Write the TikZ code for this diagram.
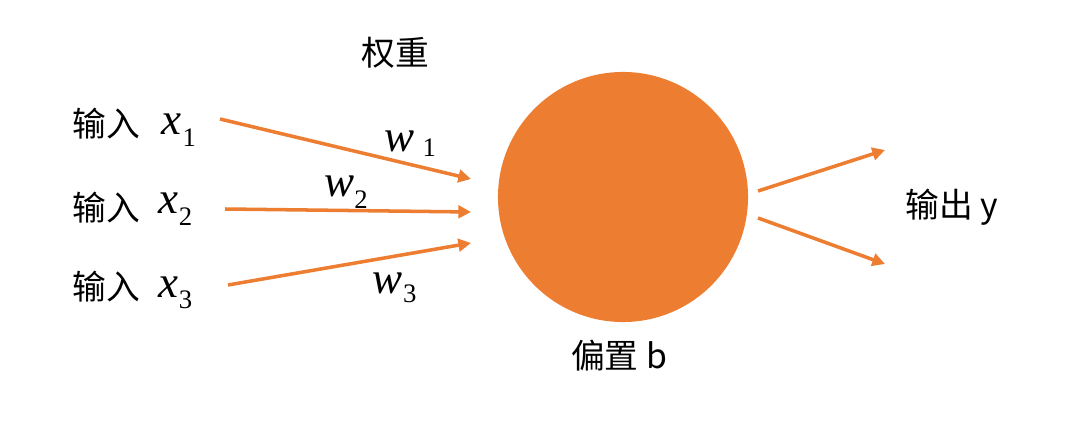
\documentclass[tikz,border=0pt]{standalone}
\usepackage{fontspec}
\setmainfont{Liberation Serif}
\newfontfamily\cjk{Noto Sans CJK SC}
\usetikzlibrary{arrows.meta}

% variable with subscript: \var{letter}{index}{gap}{drop}
\newcommand{\var}[4]{{\fontsize{32}{34}\selectfont\itshape #1}\hspace{#3}\raisebox{-#4}{\fontsize{19}{20}\selectfont #2}}

\begin{document}
\begin{tikzpicture}[
    x=0.025cm, y=-0.025cm,
    >={Triangle[length=9pt,width=9pt]},
    link/.style={->,line width=2.5pt,color=neuronorange},
    label/.style={font=\cjk\fontsize{24}{26}\selectfont,inner sep=0pt},
    mathlbl/.style={inner sep=0pt,anchor=base west},
]
\definecolor{neuronorange}{HTML}{ED7D31}
\useasboundingbox (0,0) rectangle (1071,439);

% neuron
\node[circle,fill=neuronorange,minimum size=6.25cm,inner sep=0pt] (neuron) at (623,197) {};
\node[label] (weights) at (395,53) {权重};
\node[label] (bias) at (619,356) {偏置 b};
\node[label] (out) at (952,207) {输出 y};

% inputs
\node[label] (in1) at (106,124) {输入};
\node[label] (in2) at (106,208) {输入};
\node[label] (in3) at (106,287) {输入};
\node[mathlbl] (x1) at (161,135) {\var{x}{1}{1pt}{8pt}};
\node[mathlbl] (x2) at (158,213) {\var{x}{2}{0.5pt}{9pt}};
\node[mathlbl] (x3) at (158,297) {\var{x}{3}{0.5pt}{8pt}};

% weights
\node[mathlbl] (w1) at (384,152) {\var{w}{1}{6pt}{3.5pt}};
\node[mathlbl] (w2) at (324,197) {\var{w}{2}{0pt}{8pt}};
\node[mathlbl] (w3) at (372,293) {\var{w}{3}{0.5pt}{7pt}};

% arrow ends
\coordinate (s1) at (220,119);
\coordinate (s2) at (225,209);
\coordinate (s3) at (228,285);
\coordinate (e1) at (471,179);
\coordinate (e2) at (471,212);
\coordinate (e3) at (471,243);
\coordinate (o0) at (758,191);
\coordinate (o1) at (758,218);
\coordinate (t1) at (885,150);
\coordinate (t2) at (885,264);

\draw[link] (s1) -- (e1);
\draw[link] (s2) -- (e2);
\draw[link] (s3) -- (e3);
\draw[link] (o0) -- (t1);
\draw[link] (o1) -- (t2);
\end{tikzpicture}
\end{document}
